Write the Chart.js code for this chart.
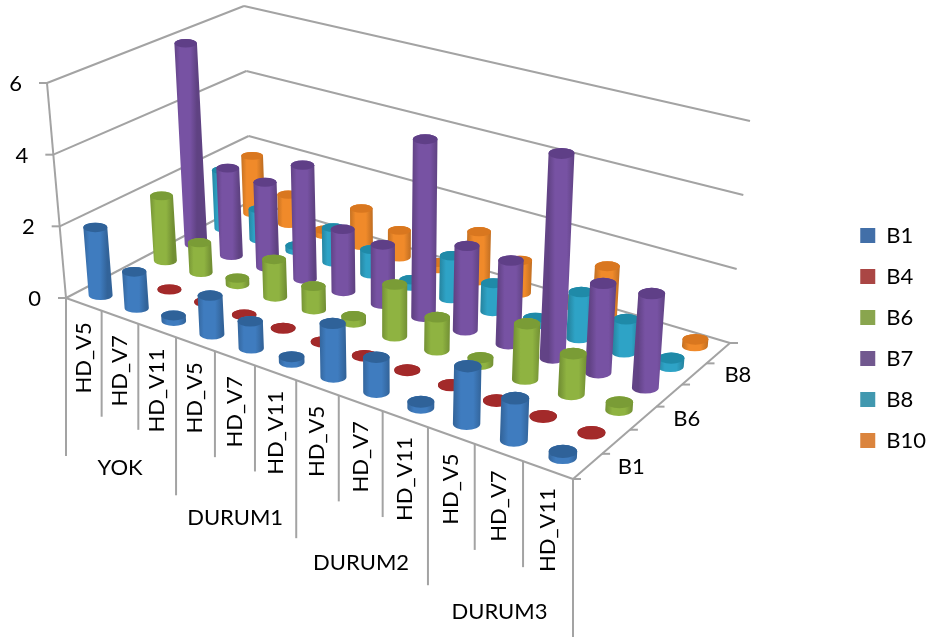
<!DOCTYPE html>
<html>
<head>
<meta charset="utf-8">
<style>body{margin:0;background:#fff}canvas{display:block}</style>
<script src="https://cdn.jsdelivr.net/npm/chart.js@4"></script>
</head>
<body>
<canvas id="chart1" width="927" height="642"></canvas>
<script>
var categories = ['HD_V5','HD_V7','HD_V11','HD_V5','HD_V7','HD_V11','HD_V5','HD_V7','HD_V11','HD_V5','HD_V7','HD_V11'];
var groups = ['YOK','DURUM1','DURUM2','DURUM3'];
var seriesNames = ['B1','B4','B6','B7','B8','B10'];
var depthLabels = ['B1','','B6','','B8',''];
var valueTicks = [0,2,4,6];

var b1  = [1.9,1.0,0.15,1.05,0.72,0.15,1.4,0.9,0.15,1.45,1.05,0.15];
var b4  = [null,0.02,0.02,0.02,0.02,0.02,0.02,0.02,0.02,0.02,0.02,0.02];
var b6  = [1.88,0.85,0.18,1.05,0.65,0.18,1.4,0.88,0.18,1.45,1.05,0.2];
var b7  = [5.92,2.55,2.45,3.25,1.75,1.65,4.9,2.3,2.25,5.45,2.35,2.45];
var b8  = [1.75,0.9,0.15,1.0,0.7,0.18,1.2,0.78,0.18,1.25,0.88,0.22];
var b10 = [1.75,0.88,0.15,1.1,0.78,0.18,1.4,0.92,0.18,1.45,1.0,0.18];

var legendColors = ['#426fa8','#aa4644','#89a54e','#71588f','#4198af','#db843d'];
var bodyColors = ['#3f7cbf','#a8282a','#8fb341','#7752a3','#2ea3c6','#f08a2a'];
var topColors  = ['#2f6299','#a32a2a','#7a9c36','#5f3f87','#1f8aa8','#d9771f'];

// screen corners of the floor and of the plane at the top value
var floorCorners = [[66,298],[573,479],[730,343],[251,201]];
var topCorners   = [[47,83],[585,231],[750,121],[244,6]];

function homography(q) {
    var x0=q[0][0],y0=q[0][1],x1=q[1][0],y1=q[1][1],x2=q[2][0],y2=q[2][1],x3=q[3][0],y3=q[3][1];
    var dx1=x1-x2, dx2=x3-x2, dx3=x0-x1+x2-x3;
    var dy1=y1-y2, dy2=y3-y2, dy3=y0-y1+y2-y3;
    var det=dx1*dy2-dx2*dy1;
    var g=(dx3*dy2-dx2*dy3)/det, h=(dx1*dy3-dx3*dy1)/det;
    var a=x1-x0+g*x1, b=x3-x0+h*x3, d=y1-y0+g*y1, e=y3-y0+h*y3;
    return function(u,v) {
        var w=g*u+h*v+1;
        return {x:(a*u+b*v+x0)/w, y:(d*u+e*v+y0)/w};
    };
}
var floorMap = homography(floorCorners);
var topMap = homography(topCorners);

function project(u,v,t) {
    var p0=floorMap(u,v), p1=topMap(u,v);
    return {x:p0.x+(p1.x-p0.x)*t, y:p0.y+(p1.y-p0.y)*t};
}

function line(ctx,a,b) {
    ctx.beginPath();
    ctx.moveTo(a.x,a.y);
    ctx.lineTo(b.x,b.y);
    ctx.stroke();
}

function shade(hex,k) {
    var n=parseInt(hex.slice(1),16);
    var c=[n>>16,(n>>8)&255,n&255].map(function(x){return Math.round(x*k);});
    return 'rgb('+c[0]+','+c[1]+','+c[2]+')';
}

var cylinders3d = {
    id:'cylinders3d',
    beforeDatasetsDraw:function(chart) {
        var ctx=chart.ctx, xs=chart.scales.x, ys=chart.scales.y, zs=chart.scales.z;
        var uAt=function(i){return (xs.getPixelForValue(i)-xs.left)/xs.width;};
        var vAt=function(s){return (zs.getPixelForValue(s)-zs.left)/zs.width;};
        var tAt=function(val){return (ys.bottom-ys.getPixelForValue(val))/ys.height;};

        ctx.save();
        ctx.strokeStyle='#a3a3a3';
        ctx.lineWidth=2;
        ctx.fillStyle='#000';
        ctx.font='22px Lato';

        // walls, value ticks
        valueTicks.forEach(function(val) {
            var t=tAt(val);
            var a=project(0,0,t), b=project(0,1,t), c=project(1,1,t);
            line(ctx,a,b);
            line(ctx,b,c);
            line(ctx,{x:a.x-8,y:a.y},a);
            ctx.textAlign='right';
            ctx.textBaseline='middle';
            ctx.fillText(String(val),a.x-25,a.y+1);
        });
        line(ctx,project(0,0,0),project(0,0,1));

        // floor edges
        line(ctx,project(0,0,0),project(1,0,0));
        line(ctx,project(1,0,0),project(1,1,0));

        // depth axis ticks and labels
        seriesNames.forEach(function(name,s) {
            var p=project(1,vAt(s-0.5),0);
            line(ctx,p,{x:p.x+8,y:p.y});
            if (depthLabels[s]) {
                var m=project(1,vAt(s),0);
                ctx.textAlign='left';
                ctx.textBaseline='middle';
                ctx.fillText(depthLabels[s],m.x+30,m.y+1);
            }
        });
        var end=project(1,1,0);
        line(ctx,end,{x:end.x+8,y:end.y});

        // category axis: separators, rotated labels, group labels
        var perGroup=categories.length/groups.length;
        for (var i=0;i<=categories.length;i++) {
            var e=project(uAt(i-0.5),0,0);
            var len=(i%perGroup===0)?158:106;
            line(ctx,e,{x:e.x,y:e.y+len});
        }
        categories.forEach(function(name,i) {
            var c=project(uAt(i),0,0);
            ctx.save();
            ctx.translate(c.x,c.y+18);
            ctx.rotate(-Math.PI/2);
            ctx.textAlign='right';
            ctx.textBaseline='middle';
            ctx.fillText(name,0,0);
            ctx.restore();
        });
        groups.forEach(function(name,g) {
            var a=project(uAt(g*perGroup-0.5),0,0), b=project(uAt((g+1)*perGroup-0.5),0,0);
            ctx.textAlign='center';
            ctx.textBaseline='middle';
            ctx.fillText(name,(a.x+b.x)/2-1,(a.y+b.y)/2+(g===0?150:159));
        });

        // cylinders, back row first
        for (var s=seriesNames.length-1;s>=0;s--) {
            var ds=chart.data.datasets[s];
            for (var k=0;k<ds.data.length;k++) {
                if (ds.data[k]===null) continue;
                var u=uAt(k), v=vAt(s), t=tAt(ds.data[k]);
                var base=project(u,v,0), tp=project(u,v,t);
                var ax=project(uAt(k+1),v,0), bx=project(u,vAt(s+1),0);
                var rx=0.245*Math.hypot(ax.x-base.x,bx.x-base.x);
                var ry=0.22*Math.hypot(ax.y-base.y,bx.y-base.y);
                var g=ctx.createLinearGradient(tp.x-rx,0,tp.x+rx,0);
                g.addColorStop(0,shade(bodyColors[s],0.82));
                g.addColorStop(0.25,bodyColors[s]);
                g.addColorStop(0.7,bodyColors[s]);
                g.addColorStop(1,shade(bodyColors[s],0.8));
                ctx.fillStyle=g;
                ctx.beginPath();
                ctx.moveTo(base.x-rx,base.y);
                ctx.lineTo(tp.x-rx,tp.y);
                ctx.ellipse(tp.x,tp.y,rx,ry,0,Math.PI,0);
                ctx.lineTo(base.x+rx,base.y);
                ctx.ellipse(base.x,base.y,rx,ry,0,0,Math.PI);
                ctx.closePath();
                ctx.fill();
                ctx.fillStyle=topColors[s];
                ctx.beginPath();
                ctx.ellipse(tp.x,tp.y,rx,ry,0,0,Math.PI*2);
                ctx.fill();
            }
        }
        ctx.restore();
        return false;
    }
};

var seriesValues = [b1,b4,b6,b7,b8,b10];
var ctx = document.getElementById('chart1').getContext('2d');
var chart = new Chart(ctx, {
    type: 'bar',
    data: {
        labels: categories,
        datasets: seriesNames.map(function(name,s) {
            return {label:name, data:seriesValues[s], backgroundColor:legendColors[s], borderWidth:0};
        })
    },
    options: {
        responsive: false,
        animation: false,
        layout: {padding: {top: 34, right: -9}},
        plugins: {
            tooltip: {enabled:false},
            legend: {
                position:'right',
                labels: {boxWidth:15, boxHeight:15, padding:19, color:'#000', font:{family:'Lato', size:22}}
            }
        },
        scales: {
            x: {display:false},
            y: {display:false, min:0, max:6},
            z: {type:'category', axis:'x', labels:seriesNames, offset:true, display:false}
        }
    },
    plugins: [cylinders3d]
});
</script>
</body>
</html>
